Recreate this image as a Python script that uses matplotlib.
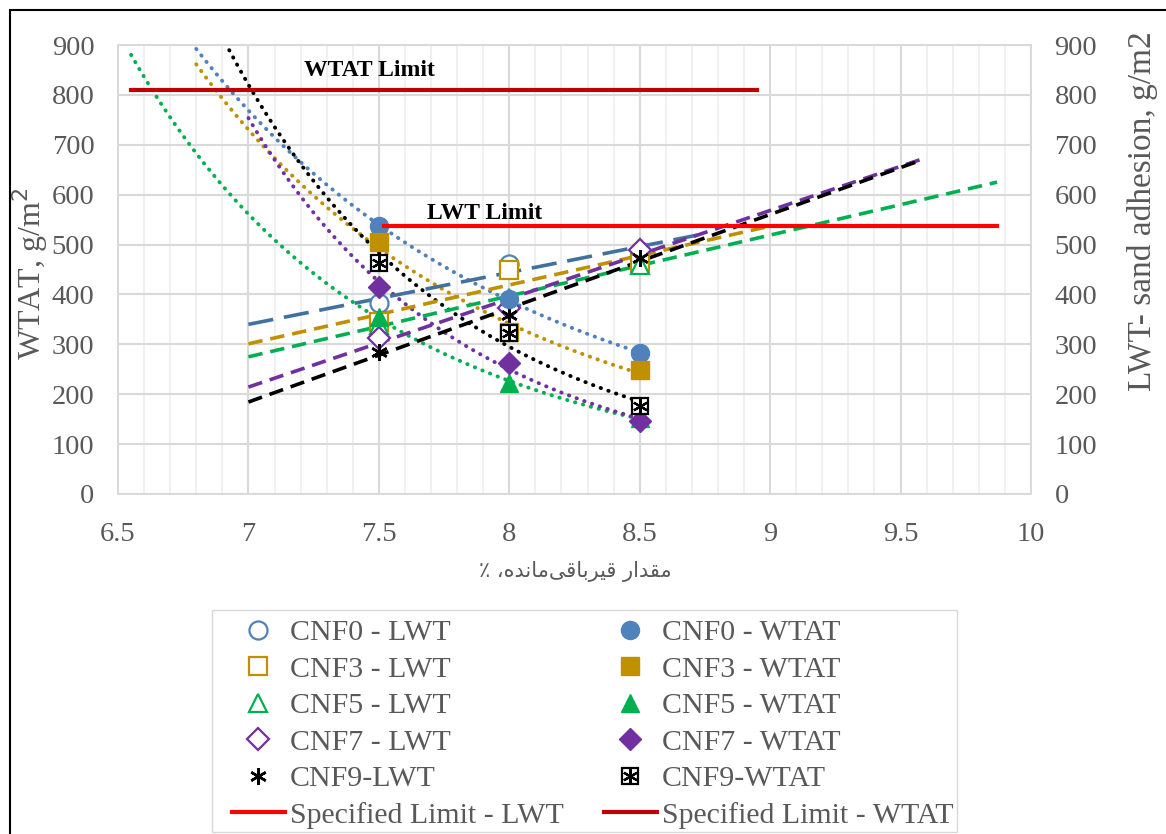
import numpy as np
import matplotlib
matplotlib.use("Agg")
import matplotlib.pyplot as plt
from matplotlib.legend_handler import HandlerTuple
from matplotlib.patches import Rectangle

# ---------------- data ----------------
x_vals = [7.5, 8.0, 8.5]
series = ["CNF0", "CNF3", "CNF5", "CNF7", "CNF9"]
wtat_cnf0 = [538, 390, 283]
wtat_cnf3 = [505, 325, 248]
wtat_cnf5 = [355, 222, 152]
wtat_cnf7 = [415, 263, 147]
wtat_cnf9 = [463, 323, 177]
lwt_cnf0 = [383, 462, 487]
lwt_cnf3 = [345, 449, 463]
lwt_cnf5 = [338, 393, 460]
lwt_cnf7 = [312, 373, 489]
lwt_cnf9 = [285, 359, 473]
wtat_limit = 810
lwt_limit = 538
x_label = "مقدار قیرباقی\u200cمانده، ٪"

# trendline extents (forecast ranges)
wtat_trend_start = [6.8, 6.8, 6.55, 7.0, 6.8]
lwt_trend_range = [(7.0, 8.72), (7.0, 9.0), (7.0, 9.87), (7.0, 9.6), (7.0, 9.58)]
wtat_limit_range = (6.55, 8.95)
lwt_limit_range = (7.52, 9.87)

colors = ["#4F81BD", "#BF9000", "#00B050", "#7030A0", "#000000"]
dash_colors = ["#41719C", "#BF9000", "#00B050", "#7030A0", "#000000"]
markers = ["o", "s", "^", "D", (6, 2, 0)]
msizes = [13, 13, 13, 11, 12]

# ---------------- simple Persian shaping for display ----------------
FORMS = {
    'ا': (0xFE8D, 0xFE8E, None, None),
    'ب': (0xFE8F, 0xFE90, 0xFE91, 0xFE92),
    'د': (0xFEA9, 0xFEAA, None, None),
    'ر': (0xFEAD, 0xFEAE, None, None),
    'ق': (0xFED5, 0xFED6, 0xFED7, 0xFED8),
    'م': (0xFEE1, 0xFEE2, 0xFEE3, 0xFEE4),
    'ن': (0xFEE5, 0xFEE6, 0xFEE7, 0xFEE8),
    'ه': (0xFEE9, 0xFEEA, 0xFEEB, 0xFEEC),
    'ی': (0xFEEF, 0xFEF0, 0xFEF3, 0xFEF4),
}


def shape(text):
    out = []
    n = len(text)
    for i, ch in enumerate(text):
        if ch == '\u200c':
            continue
        if ch not in FORMS:
            out.append(ch)
            continue
        iso, fin, ini, med = FORMS[ch]
        prev = text[i - 1] if i > 0 else None
        nxt = text[i + 1] if i < n - 1 else None
        jp = prev in FORMS and FORMS[prev][2] is not None
        jn = ini is not None and nxt in FORMS
        if jp and jn:
            c = med
        elif jp:
            c = fin
        elif jn:
            c = ini
        else:
            c = iso
        out.append(chr(c))
    return "".join(out[::-1])


# ---------------- figure ----------------
plt.rcParams['font.family'] = ['Liberation Serif', 'DejaVu Sans']
gray = "#595959"

fig = plt.figure(figsize=(11.66, 8.34), dpi=100)
ax = fig.add_axes([0.1012, 0.4077, 0.7830, 0.5383])
ax2 = ax.twinx()

ax.set_xlim(6.5, 10)
ax.set_ylim(0, 900)
ax2.set_ylim(0, 900)
ax.set_xticks(np.arange(6.5, 10.01, 0.5))
ax.set_xticklabels(["6.5", "7", "7.5", "8", "8.5", "9", "9.5", "10"])
ax.set_xticks(np.arange(6.5, 10.001, 0.1), minor=True)
ax.set_yticks(np.arange(0, 901, 100))
ax2.set_yticks(np.arange(0, 901, 100))
ax.grid(which='minor', axis='x', color='#EEEEEE', lw=1.2)
ax.grid(which='major', axis='x', color='#D9D9D9', lw=1.5)
ax.grid(which='major', axis='y', color='#D9D9D9', lw=1.5)
ax.set_axisbelow(True)
for a in (ax, ax2):
    for s in a.spines.values():
        s.set_color('#D9D9D9')
        s.set_linewidth(1.2)
    a.tick_params(which='both', length=0, labelsize=20.5, colors=gray, pad=17)
ax.tick_params(axis='x', pad=20)

wtat_all = [wtat_cnf0, wtat_cnf3, wtat_cnf5, wtat_cnf7, wtat_cnf9]
lwt_all = [lwt_cnf0, lwt_cnf3, lwt_cnf5, lwt_cnf7, lwt_cnf9]
xv = np.array(x_vals)

# trendlines
for i in range(5):
    # power trendline for WTAT
    b, a = np.polyfit(np.log(xv), np.log(wtat_all[i]), 1)
    xs = np.linspace(wtat_trend_start[i], 8.5, 200)
    ax.plot(xs, np.exp(a) * xs ** b, color=colors[i], lw=2.8,
            dashes=(0.1, 2.0), dash_capstyle='round', zorder=3)
    # linear trendline for LWT
    m, c = np.polyfit(xv, lwt_all[i], 1)
    x0, x1 = lwt_trend_range[i]
    xs = np.array([x0, x1])
    d = (7, 3) if i == 0 else (4, 2.2)
    ax2.plot(xs, m * xs + c, color=dash_colors[i], lw=2.6, dashes=d, zorder=3)

wtat_handles = []
lwt_handles = []
for i in range(5):
    if i < 4:
        h1, = ax2.plot(xv, lwt_all[i], ls='none', marker=markers[i], ms=msizes[i],
                       mfc='white', mec=colors[i], mew=1.6, zorder=5)
        h2, = ax2.plot(xv, wtat_all[i], ls='none', marker=markers[i], ms=msizes[i],
                       mfc=colors[i], mec=colors[i], zorder=6)
        lwt_handles.append(h1)
        wtat_handles.append(h2)
    else:
        h1, = ax2.plot(xv, lwt_all[i], ls='none', marker=markers[i], ms=msizes[i],
                       mec='black', mew=1.8, zorder=5)
        hs, = ax2.plot(xv, wtat_all[i], ls='none', marker='s', ms=12,
                       mfc='white', mec='black', mew=1.6, zorder=6)
        hx, = ax2.plot(xv, wtat_all[i], ls='none', marker=(6, 2, 0), ms=11,
                       mec='black', mew=1.6, zorder=6)
        lwt_handles.append(h1)
        wtat_handles.append((hs, hx))

# limit lines
hl_lwt, = ax2.plot(lwt_limit_range, [lwt_limit, lwt_limit], color='#FF0000', lw=3, zorder=7)
hl_wtat, = ax2.plot(wtat_limit_range, [wtat_limit, wtat_limit], color='#C00000', lw=3, zorder=7)
ax2.text(7.465, 848, "WTAT Limit", fontsize=17, fontweight='bold', ha='center', va='center', zorder=8)
ax2.text(7.905, 563, "LWT Limit", fontsize=17, fontweight='bold', ha='center', va='center', zorder=8)

ax.set_ylabel("WTAT, g/m$^2$", fontsize=23, color=gray)
ax.yaxis.set_label_coords(-0.074, 0.49)
ax2.set_ylabel("LWT- sand adhesion, g/m2", fontsize=24, color=gray)
ax2.yaxis.set_label_coords(1.105, 0.63)
fig.text(0.4935, 1 - 571 / 834, shape(x_label), fontsize=15, color=gray,
         ha='center', va='center', family=['DejaVu Sans'])

labels_l = ["CNF0 - LWT", "CNF3 - LWT", "CNF5 - LWT", "CNF7 - LWT", "CNF9-LWT",
            "Specified Limit - LWT"]
labels_w = ["CNF0 - WTAT", "CNF3 - WTAT", "CNF5 - WTAT", "CNF7 - WTAT", "CNF9-WTAT",
            "Specified Limit - WTAT"]
handles = lwt_handles + [hl_lwt] + wtat_handles + [hl_wtat]
labels = labels_l + labels_w
leg = fig.legend(handles, labels, ncol=2, loc='upper left',
                 bbox_to_anchor=(232 / 1166, 1 - 619.5 / 834), fontsize=21.5,
                 frameon=False, labelspacing=0.32, borderpad=0, borderaxespad=0,
                 handlelength=1.77, handletextpad=0.17, columnspacing=1.34,
                 labelcolor=gray,
                 handler_map={tuple: HandlerTuple(ndivide=1)})

# legend frame
fig.patches.append(Rectangle((212 / 1166, 1 - 832 / 834), (957 - 212) / 1166, (832 - 610) / 834,
                             transform=fig.transFigure, fill=False, ec='#D9D9D9', lw=1.0))
# outer chart border
fig.patches.append(Rectangle((10 / 1166, -0.2), 2, 1.2 - 10 / 834, transform=fig.transFigure,
                             fill=False, ec='black', lw=1.5))

fig.savefig("out.png", dpi=100)
